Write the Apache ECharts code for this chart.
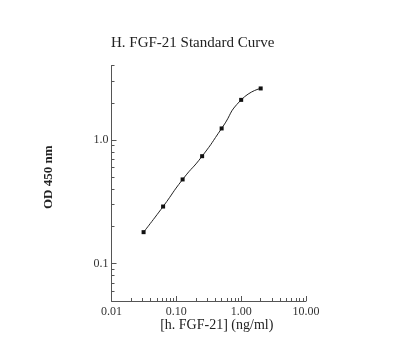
<!DOCTYPE html>
<html><head><meta charset="utf-8">
<script src="https://cdn.jsdelivr.net/npm/echarts@6/dist/echarts.min.js"></script>
<style>html,body{margin:0;padding:0;background:#fff}#c{width:400px;height:342px}</style>
</head><body><div id="c"></div>
<script>
var concentrations = [0.03125, 0.0625, 0.125, 0.25, 0.5, 1, 2];
var odValues = [0.18, 0.29, 0.48, 0.74, 1.24, 2.11, 2.61];
var xMinorTicks = [0.02,0.03,0.04,0.05,0.06,0.07,0.08,0.09,0.2,0.3,0.4,0.5,0.6,0.7,0.8,0.9,2,3,4,5,6,7,8,9];
var yMinorTicks = [0.06,0.07,0.08,0.09,0.2,0.3,0.4,0.5,0.6,0.7,0.8,0.9,2,3,4];
var FONT = 'Liberation Serif';
var chart = echarts.init(document.getElementById('c'));
var axisColor = '#555';
chart.setOption({
  animation: false,
  backgroundColor: '#fff',
  title: {
    text: 'H. FGF-21 Standard Curve',
    left: 106, top: 31,
    textStyle: {fontFamily: FONT, fontSize: 15, fontWeight: 'normal', color: '#222'}
  },
  grid: {left: 111.5, right: 94, top: 65.5, bottom: 41},
  xAxis: [{
    type: 'log', logBase: 10, min: 0.01, max: 10,
    name: '[h. FGF-21] (ng/ml)', nameLocation: 'middle', nameGap: 17, nameMoveOverlap: false,
    nameTextStyle: {fontFamily: FONT, fontSize: 14, color: '#222', padding: [0,0,0,16]},
    axisLine: {lineStyle: {color: axisColor, width: 1}},
    axisTick: {inside: true, length: 5, lineStyle: {color: axisColor}},
    axisLabel: {fontFamily: FONT, fontSize: 12, color: '#333', margin: 5,
      formatter: function (v) { return Number(v).toFixed(2); }},
    splitLine: {show: false}
  }, {
    type: 'log', logBase: 10, min: 0.01, max: 10, position: 'bottom', gridIndex: 0,
    axisLine: {show: false},
    axisTick: {inside: true, length: 3, customValues: xMinorTicks, lineStyle: {color: axisColor}},
    axisLabel: {show: false},
    splitLine: {show: false}
  }],
  yAxis: [{
    type: 'log', logBase: 10, min: 0.05, max: 4,
    name: 'OD 450 nm', nameLocation: 'middle', nameGap: 56, nameRotate: 90, nameMoveOverlap: false,
    nameTextStyle: {fontFamily: FONT, fontSize: 13, fontWeight: 'bold', color: '#222', padding: [0,0,0,12]},
    axisLine: {lineStyle: {color: axisColor, width: 1}},
    axisTick: {inside: true, length: 5, lineStyle: {color: axisColor}},
    axisLabel: {fontFamily: FONT, fontSize: 12, color: '#333', margin: 3, showMinLabel: false, showMaxLabel: false,
      formatter: function (v) { return Number(v).toFixed(1); }},
    splitLine: {show: false}
  }, {
    type: 'log', logBase: 10, min: 0.05, max: 4, position: 'left', gridIndex: 0,
    axisLine: {show: false},
    axisTick: {inside: true, length: 3, customValues: yMinorTicks, lineStyle: {color: axisColor}},
    axisLabel: {show: false},
    splitLine: {show: false}
  }],
  series: [{
    type: 'line',
    data: concentrations.map(function (x, i) { return [x, odValues[i]]; }),
    smooth: 0.6,
    symbol: 'rect', symbolSize: 4, showSymbol: true,
    lineStyle: {color: '#222', width: 1},
    itemStyle: {color: '#111'}
  }]
});
</script></body></html>
